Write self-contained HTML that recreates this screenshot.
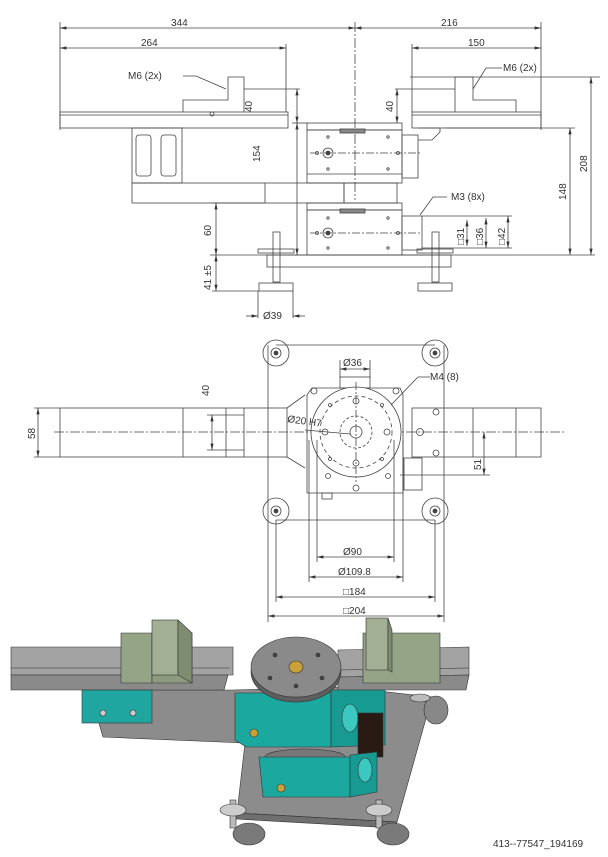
<!DOCTYPE html>
<html><head><meta charset="utf-8"><style>
html,body{margin:0;padding:0;background:#fff;}
svg{display:block}
text{font-family:"Liberation Sans",sans-serif;font-size:10px;fill:#333;}
</style></head><body>
<svg width="608" height="857" viewBox="0 0 608 857" xmlns="http://www.w3.org/2000/svg">
<defs>
<marker id="a" markerWidth="8" markerHeight="6" refX="8" refY="3" orient="auto-start-reverse"><path d="M0,1 L8,3 L0,5z" fill="#333"/></marker>
</defs>
<g stroke="#444" stroke-width="0.8" fill="none">
<line x1="60" y1="22" x2="60" y2="130"/>
<line x1="541" y1="22" x2="541" y2="130"/>
<line x1="286" y1="44" x2="286" y2="112"/>
<line x1="412" y1="44" x2="412" y2="112"/>
<line x1="355" y1="22" x2="355" y2="200" stroke-dasharray="10,2,2,2"/>
<line x1="60" y1="28" x2="355" y2="28" marker-start="url(#a)" marker-end="url(#a)"/>
<line x1="355" y1="28" x2="541" y2="28" marker-start="url(#a)" marker-end="url(#a)"/>
<line x1="60" y1="48" x2="286" y2="48" marker-start="url(#a)" marker-end="url(#a)"/>
<line x1="412" y1="48" x2="541" y2="48" marker-start="url(#a)" marker-end="url(#a)"/>
<rect x="60" y="112" width="228" height="16"/>
<line x1="60" y1="115" x2="288" y2="115"/>
<path d="M183 112 V100 H228 V77 H244 V112"/>
<circle cx="212" cy="114" r="2"/>
<rect x="412" y="112" width="129" height="16"/>
<line x1="412" y1="115" x2="541" y2="115"/>
<path d="M455 112 V77 H473 V100 H516 V112"/>
<line x1="410" y1="77" x2="600" y2="77"/>
<line x1="395" y1="89" x2="455" y2="89"/>
<line x1="244" y1="89" x2="300" y2="89"/>
<path d="M183 76 H196 L226 89" /><path d="M502 68 H486 L473 89"/>
<rect x="307" y="123" width="95" height="7"/>
<rect x="307" y="130" width="95" height="53"/>
<line x1="307" y1="174" x2="402" y2="174"/>
<rect x="340" y="129" width="25" height="4" fill="#888"/>
<circle cx="328" cy="153" r="5"/><circle cx="328" cy="153" r="2" fill="#444"/>
<circle cx="317" cy="153" r="1.5"/><circle cx="398" cy="153" r="1.5"/>
<circle cx="328" cy="137" r="1.2"/><circle cx="388" cy="137" r="1.2"/><circle cx="328" cy="169" r="1.2"/><circle cx="388" cy="169" r="1.2"/>
<line x1="310" y1="153" x2="420" y2="153" stroke-dasharray="8,2,2,2"/>
<rect x="402" y="135" width="16" height="43"/>
<path d="M418 128 H440 V132 L432 140 H418"/>
<rect x="132" y="128" width="50" height="55"/>
<rect x="136" y="135" width="15" height="41" rx="3"/><rect x="161" y="135" width="15" height="41" rx="3"/>
<rect x="132" y="183" width="212" height="20"/>
<line x1="265" y1="183" x2="265" y2="203"/>
<rect x="344" y="183" width="53" height="20"/>
<rect x="307" y="203" width="95" height="7"/>
<rect x="307" y="210" width="95" height="45"/>
<rect x="340" y="209" width="25" height="4" fill="#888"/>
<circle cx="328" cy="233" r="5"/><circle cx="328" cy="233" r="2" fill="#444"/>
<circle cx="317" cy="233" r="1.5"/><circle cx="398" cy="233" r="1.5"/>
<circle cx="328" cy="218" r="1.2"/><circle cx="388" cy="218" r="1.2"/><circle cx="328" cy="248" r="1.2"/><circle cx="388" cy="248" r="1.2"/>
<line x1="310" y1="233" x2="420" y2="233" stroke-dasharray="8,2,2,2"/>
<rect x="402" y="216" width="20" height="34"/>
<line x1="422" y1="216" x2="512" y2="216"/><line x1="422" y1="248" x2="512" y2="248"/>
<line x1="467" y1="220" x2="467" y2="246" marker-start="url(#a)" marker-end="url(#a)"/>
<line x1="486" y1="218" x2="486" y2="248" marker-start="url(#a)" marker-end="url(#a)"/>
<line x1="508" y1="216" x2="508" y2="248" marker-start="url(#a)" marker-end="url(#a)"/>
<path d="M447 197 H433 L420 215"/>
<line x1="210" y1="255" x2="595" y2="255"/>
<rect x="267" y="255" width="184" height="12"/>
<rect x="273" y="232" width="7" height="50"/><rect x="258" y="249" width="36" height="4"/><rect x="259" y="283" width="34" height="8"/>
<rect x="432" y="232" width="7" height="50"/><rect x="417" y="249" width="36" height="4"/><rect x="418" y="283" width="34" height="8"/>
<line x1="258" y1="291" x2="258" y2="318"/><line x1="293" y1="291" x2="293" y2="318"/>
<line x1="246" y1="316" x2="258" y2="316" marker-end="url(#a)"/><line x1="305" y1="316" x2="293" y2="316" marker-end="url(#a)"/>
<line x1="591" y1="77" x2="591" y2="255" marker-start="url(#a)" marker-end="url(#a)"/>
<line x1="570" y1="128" x2="570" y2="255" marker-start="url(#a)" marker-end="url(#a)"/>
<line x1="445" y1="128" x2="575" y2="128"/>
<line x1="297" y1="123" x2="297" y2="255" marker-start="url(#a)" marker-end="url(#a)"/>
<line x1="297" y1="89" x2="297" y2="123" marker-start="url(#a)" marker-end="url(#a)"/>
<line x1="397" y1="89" x2="397" y2="123" marker-start="url(#a)" marker-end="url(#a)"/>
<line x1="292" y1="123" x2="307" y2="123"/>
<line x1="216" y1="203" x2="216" y2="255" marker-start="url(#a)" marker-end="url(#a)"/>
<line x1="216" y1="255" x2="216" y2="291" marker-start="url(#a)" marker-end="url(#a)"/>
<line x1="212" y1="203" x2="265" y2="203"/><line x1="212" y1="291" x2="259" y2="291"/>
</g>
<g>
<text x="171" y="26">344</text><text x="441" y="26">216</text>
<text x="141" y="46">264</text><text x="468" y="46">150</text>
<text x="128" y="79" font-size="9">M6 (2x)</text><text x="503" y="71" font-size="9">M6 (2x)</text>
<text x="451" y="200" font-size="9">M3 (8x)</text>
<text x="263" y="319" font-size="9">Ø39</text>
<text transform="translate(252,112) rotate(-90)">40</text>
<text transform="translate(393,112) rotate(-90)">40</text>
<text transform="translate(260,162) rotate(-90)">154</text>
<text transform="translate(211,236) rotate(-90)">60</text>
<text transform="translate(211,290) rotate(-90)" font-size="9">41 ±5</text>
<text transform="translate(566,200) rotate(-90)">148</text>
<text transform="translate(587,172) rotate(-90)">208</text>
<text transform="translate(464,245) rotate(-90)" font-size="9">□31</text>
<text transform="translate(483,245) rotate(-90)" font-size="9">□36</text>
<text transform="translate(505,245) rotate(-90)" font-size="9">□42</text>
</g>

<g stroke="#444" stroke-width="0.8" fill="none">
<line x1="268" y1="345" x2="268" y2="622"/><line x1="444" y1="345" x2="444" y2="622"/>
<line x1="276" y1="345" x2="435" y2="345"/><line x1="276" y1="520" x2="435" y2="520"/>
<circle cx="276" cy="353" r="13"/><circle cx="276" cy="353" r="5"/><circle cx="276" cy="353" r="2" fill="#444"/>
<circle cx="435" cy="353" r="13"/><circle cx="435" cy="353" r="5"/><circle cx="435" cy="353" r="2" fill="#444"/>
<circle cx="276" cy="511" r="13"/><circle cx="276" cy="511" r="5"/><circle cx="276" cy="511" r="2" fill="#444"/>
<circle cx="435" cy="511" r="13"/><circle cx="435" cy="511" r="5"/><circle cx="435" cy="511" r="2" fill="#444"/>
<rect x="60" y="408" width="227" height="49"/>
<line x1="183" y1="408" x2="183" y2="457"/><line x1="226" y1="408" x2="226" y2="457"/><line x1="244" y1="408" x2="244" y2="457"/>
<rect x="412" y="408" width="129" height="49"/>
<line x1="473" y1="408" x2="473" y2="457"/><line x1="516" y1="408" x2="516" y2="457"/>
<circle cx="436" cy="412" r="3"/><circle cx="436" cy="453" r="3"/><circle cx="420" cy="432" r="3.5"/>
<line x1="287" y1="408" x2="305" y2="395"/><line x1="287" y1="457" x2="305" y2="468"/>
<line x1="54" y1="432" x2="566" y2="432" stroke-dasharray="10,2,2,2"/>
<line x1="38" y1="408" x2="38" y2="457" marker-start="url(#a)" marker-end="url(#a)"/>
<line x1="34" y1="408" x2="60" y2="408"/><line x1="34" y1="457" x2="60" y2="457"/>
<line x1="212" y1="415" x2="212" y2="450" marker-start="url(#a)" marker-end="url(#a)"/>
<line x1="207" y1="415" x2="244" y2="415"/><line x1="207" y1="450" x2="244" y2="450"/>
<line x1="484" y1="432" x2="484" y2="475" marker-start="url(#a)" marker-end="url(#a)"/>
<line x1="400" y1="475" x2="490" y2="475"/>
<path d="M307 395 L312 388 H400 L403 395 V493 H307z"/>
<rect x="340" y="377" width="30" height="11"/>
<circle cx="314" cy="391" r="3"/><circle cx="396" cy="391" r="3"/>
<circle cx="356" cy="432" r="45" fill="#fff"/>
<circle cx="356" cy="432" r="36" stroke-dasharray="4,3"/>
<circle cx="356" cy="432" r="16" stroke-dasharray="3,2"/>
<circle cx="356" cy="432" r="6"/>
<line x1="356" y1="382" x2="356" y2="482" stroke-dasharray="8,2,2,2"/>
<circle cx="356" cy="401" r="3"/><circle cx="356" cy="463" r="3"/><circle cx="325" cy="432" r="3"/><circle cx="387" cy="432" r="3"/>
<circle cx="330" cy="405" r="1.5"/><circle cx="382" cy="405" r="1.5"/><circle cx="330" cy="459" r="1.5"/><circle cx="382" cy="459" r="1.5"/>
<circle cx="328" cy="476" r="2.5"/><circle cx="388" cy="476" r="2.5"/><circle cx="356" cy="488" r="3"/>
<rect x="404" y="458" width="18" height="32"/>
<rect x="322" y="493" width="10" height="6"/>
<line x1="340" y1="360" x2="340" y2="378"/><line x1="370" y1="360" x2="370" y2="378"/>
<line x1="340" y1="369" x2="370" y2="369" marker-start="url(#a)" marker-end="url(#a)"/>
<path d="M430 377 H418 L391 405"/>
<line x1="305" y1="430" x2="350" y2="434"/>
<line x1="317" y1="440" x2="317" y2="562"/><line x1="394" y1="440" x2="394" y2="562"/>
<line x1="309" y1="440" x2="309" y2="582"/><line x1="403" y1="440" x2="403" y2="582"/>
<line x1="276" y1="520" x2="276" y2="602"/><line x1="435" y1="520" x2="435" y2="602"/>
<line x1="317" y1="557" x2="394" y2="557" marker-start="url(#a)" marker-end="url(#a)"/>
<line x1="309" y1="577" x2="403" y2="577" marker-start="url(#a)" marker-end="url(#a)"/>
<line x1="276" y1="597" x2="435" y2="597" marker-start="url(#a)" marker-end="url(#a)"/>
<line x1="268" y1="616" x2="444" y2="616" marker-start="url(#a)" marker-end="url(#a)"/>
</g>
<g>
<text x="343" y="366" font-size="9">Ø36</text>
<text x="430" y="380" font-size="9">M4 (8)</text>
<text x="287" y="422" font-size="9" transform="rotate(8 287 422)">Ø20 H7</text>
<text x="343" y="555" font-size="9">Ø90</text>
<text x="338" y="575" font-size="9">Ø109.8</text>
<text x="343" y="595" font-size="9">□184</text>
<text x="343" y="614" font-size="9">□204</text>
<text transform="translate(35,439) rotate(-90)" font-size="9">58</text>
<text transform="translate(209,396) rotate(-90)" font-size="9">40</text>
<text transform="translate(481,470) rotate(-90)" font-size="9">51</text>
</g>

<g stroke="#333" stroke-width="0.6">
<polygon points="342,687 432,697 397,822 237,813 245,743 103,737 89,690 233,690" fill="#8c8c8c"/>
<polygon points="237,813 397,822 395,828 236,819" fill="#6f6f6f"/>
<ellipse cx="436" cy="710" rx="12" ry="14" fill="#888"/>
<ellipse cx="420" cy="698" rx="10" ry="4" fill="#bbb"/>
<polygon points="11,647 233,647 233,675 11,675" fill="#a3a3a3"/>
<polygon points="11,675 228,675 224,690 11,690" fill="#8a8a8a"/>
<line x1="11" y1="668" x2="230" y2="668"/>
<polygon points="338,650 469,647 469,675 338,677" fill="#a3a3a3"/>
<polygon points="338,677 469,675 466,690 338,690" fill="#8a8a8a"/>
<line x1="338" y1="670" x2="469" y2="668"/>
<rect x="82" y="690" width="70" height="33" fill="#1fa6a0"/>
<circle cx="103" cy="713" r="3" fill="#ccc"/><circle cx="133" cy="713" r="3" fill="#ccc"/>
<polygon points="121,633 152,633 152,683 121,683" fill="#95a386"/>
<polygon points="152,633 192,633 192,683 152,683" fill="#8c9a7d"/>
<rect x="152" y="620" width="26" height="55" fill="#a2af94"/>
<polygon points="178,620 192,633 192,683 178,675" fill="#7e8c70"/>
<polygon points="363,633 440,633 440,683 363,683" fill="#95a386"/>
<rect x="366" y="618" width="22" height="52" fill="#a2af94"/>
<polygon points="388,618 392,630 392,672 388,670" fill="#7e8c70"/>
<polygon points="235,693 331,693 331,747 246,747 235,740" fill="#1aa89f"/>
<polygon points="331,690 385,690 385,745 331,747" fill="#179a92"/>
<ellipse cx="350" cy="718" rx="8" ry="14" fill="#3cc8c0"/>
<rect x="358" y="713" width="25" height="44" fill="#2a1a14"/>
<circle cx="254" cy="733" r="4" fill="#c9a13b"/>
<ellipse cx="296" cy="672" rx="45" ry="30" fill="#5e5e5e"/>
<ellipse cx="296" cy="667" rx="45" ry="30" fill="#8a8a8a"/>
<ellipse cx="296" cy="667" rx="7" ry="6" fill="#c9a13b"/>
<circle cx="275" cy="655" r="2" fill="#444"/><circle cx="318" cy="655" r="2" fill="#444"/><circle cx="270" cy="678" r="2" fill="#444"/><circle cx="322" cy="678" r="2" fill="#444"/><circle cx="296" cy="686" r="2" fill="#444"/>
<ellipse cx="305" cy="757" rx="40" ry="8" fill="#777"/>
<polygon points="259,757 350,757 350,797 263,797" fill="#1aa89f"/>
<polygon points="350,755 377,752 377,792 350,797" fill="#179a92"/>
<ellipse cx="365" cy="770" rx="7" ry="12" fill="#3cc8c0"/>
<circle cx="281" cy="788" r="4" fill="#c9a13b"/>
<rect x="230" y="800" width="6" height="28" fill="#bbb"/>
<ellipse cx="233" cy="810" rx="13" ry="6" fill="#ccc"/>
<ellipse cx="249" cy="834" rx="16" ry="11" fill="#7a7a7a"/>
<rect x="376" y="800" width="6" height="28" fill="#bbb"/>
<ellipse cx="379" cy="810" rx="13" ry="6" fill="#ccc"/>
<ellipse cx="393" cy="834" rx="16" ry="11" fill="#7a7a7a"/>
</g>
<text x="493" y="847" font-size="9" fill="#444">413--77547_194169</text>
</svg>
</body></html>
